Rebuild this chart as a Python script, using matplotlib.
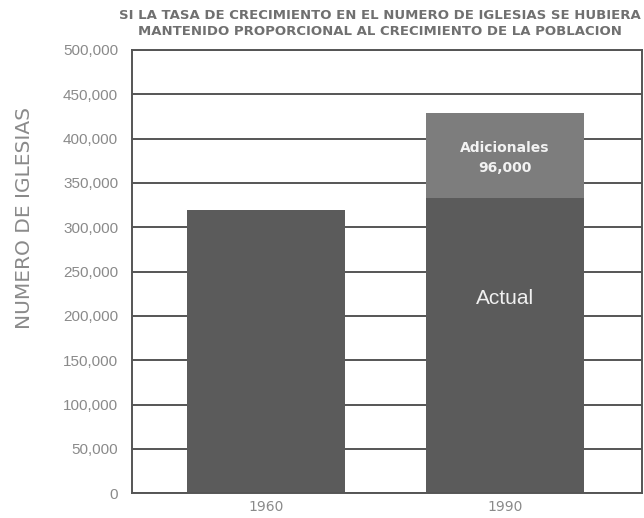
import matplotlib
matplotlib.use("Agg")
import matplotlib.pyplot as plt
from matplotlib.ticker import FuncFormatter

plt.rcParams['font.family'] = ['Liberation Sans', 'DejaVu Sans']

years = ["1960", "1990"]
actual = [320000, 333000]
additional = [0, 96000]
add_label = "Adicionales\n96,000"
actual_label = "Actual"
title = "SI LA TASA DE CRECIMIENTO EN EL NUMERO DE IGLESIAS SE HUBIERA\nMANTENIDO PROPORCIONAL AL CRECIMIENTO DE LA POBLACION"
ylabel = "NUMERO DE IGLESIAS"
yticks = list(range(0, 500001, 50000))

fig = plt.figure(figsize=(6.44, 5.18), dpi=100)
ax = fig.add_axes([0.205, 0.048, 0.792, 0.8555])

x = list(range(len(years)))
dark = "#5b5b5b"
light = "#7d7d7d"
grid = "#555555"

for yv in yticks:
    ax.axhline(yv, color=grid, lw=1.4, zorder=1)

ax.bar(x, actual, width=0.66, color=dark, zorder=2)
ax.bar(x, additional, width=0.66, bottom=actual, color=light, zorder=2)

ax.text(x[1], 378000, add_label, ha="center", va="center",
        color="#f2f2f2", fontsize=10, fontweight="bold", linespacing=1.6, zorder=3,
        family="DejaVu Sans")
ax.text(x[1], 220000, actual_label, ha="center", va="center",
        color="#f0f0f0", fontsize=15, zorder=3)

ax.set_xlim(-0.56, 1.575)
ax.set_ylim(0, 500000)
ax.set_xticks(x)
ax.set_xticklabels(years, family="DejaVu Sans")
ax.set_yticks(yticks)
ax.yaxis.set_major_formatter(FuncFormatter(lambda v, p: f"{int(v):,}"))
ax.tick_params(axis="both", length=0, colors="#8a8a8a")
ax.tick_params(axis="y", labelsize=11, pad=10)
ax.tick_params(axis="x", labelsize=10, pad=5)
for s in ax.spines.values():
    s.set_color(grid)
    s.set_linewidth(1.4)

ax.set_ylabel(ylabel, color="#8a8a8a", fontsize=14.5, family="DejaVu Sans")
ax.yaxis.set_label_coords(-0.192, 0.62)
fig.text(0.59, 0.955, title, ha="center", va="center", color="#707070",
         fontsize=9.5, fontweight="bold", linespacing=1.3, family="DejaVu Sans")

fig.savefig("out.png", dpi=100, facecolor="white")
